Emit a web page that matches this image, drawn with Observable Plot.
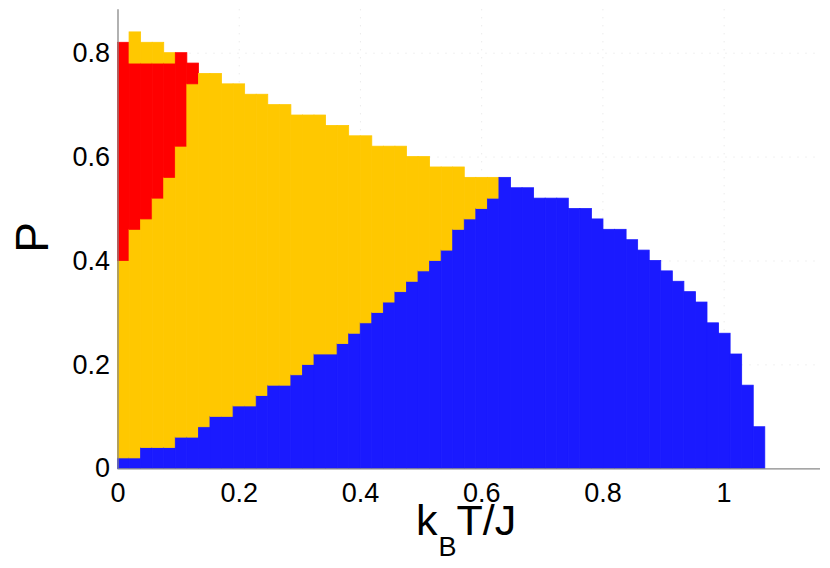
<!DOCTYPE html>
<html><head><meta charset="utf-8">
<script src="https://cdn.jsdelivr.net/npm/d3@7"></script>
<script src="https://cdn.jsdelivr.net/npm/@observablehq/plot@0.6"></script>
<style>body{margin:0;background:#fff;overflow:hidden}</style>
</head><body><div id="chart"></div>
<script>
// column width in k_B T / J (grid of the phase map)
const T_STEP = 0.01907;
// upper P of the blue phase, per temperature column
const blueTop = [0.02,0.02,0.04,0.04,0.04,0.06,0.06,0.08,0.10,0.10,0.12,0.12,0.14,0.16,0.16,0.18,0.20,0.22,0.22,0.24,
  0.26,0.28,0.30,0.32,0.34,0.36,0.38,0.40,0.42,0.46,0.48,0.50,0.52,0.56,0.54,0.54,0.52,0.52,0.52,0.50,
  0.50,0.48,0.46,0.46,0.44,0.42,0.40,0.38,0.36,0.34,0.32,0.28,0.26,0.22,0.16,0.08];
// overall upper P of the ordered region for the first columns (yellow/red on top)
const upperTop = [0.82,0.84,0.82,0.82,0.80,0.80,0.78,0.76,0.76,0.74,0.74,0.72,0.72,0.70,0.70,0.68,0.68,0.68,0.66,0.66,
  0.64,0.64,0.62,0.62,0.62,0.60,0.60,0.58,0.58,0.58,0.56,0.56,0.56];
// red phase extent in the lowest temperature columns
const redLow  = [0.40,0.46,0.48,0.52,0.56,0.62,0.74];
const redHigh = [0.82,0.78,0.78,0.78,0.78,0.80,0.78];

const xTicks = [0,0.2,0.4,0.6,0.8,1];
const yTicks = [0,0.2,0.4,0.6,0.8];
const phaseNames = ["phase R","phase Y","phase B"];
const phaseColors = ["#ff0000","#ffc800","#1a1aff"];

const cells = [];
blueTop.forEach((b, i) => {
  const x1 = i * T_STEP, x2 = (i + 1) * T_STEP;
  cells.push({x1, x2, y1: 0, y2: b, phase: "phase B"});
  if (i < upperTop.length) {
    const top = upperTop[i];
    if (i < redLow.length) {
      cells.push({x1, x2, y1: b, y2: redLow[i], phase: "phase Y"});
      cells.push({x1, x2, y1: redLow[i], y2: redHigh[i], phase: "phase R"});
      if (top > redHigh[i] + 1e-9) cells.push({x1, x2, y1: redHigh[i], y2: top, phase: "phase Y"});
    } else {
      cells.push({x1, x2, y1: b, y2: top, phase: "phase Y"});
    }
  }
});

const fmt = d3.format("~g");
const svg = Plot.plot({
  width: 830, height: 568,
  marginLeft: 117.5, marginRight: 10, marginTop: 9.3, marginBottom: 99.7,
  style: {fontFamily: "'Liberation Sans', Arial, sans-serif", fontSize: "27px", color: "black", background: "white"},
  x: {domain: [0, 1.159]},
  y: {domain: [0, 0.8835]},
  color: {type: "ordinal", domain: phaseNames, range: phaseColors},
  marks: [
    Plot.gridY(yTicks.slice(1), {stroke: "#e2e2e2", strokeOpacity: 1, strokeDasharray: "1,7"}),
    Plot.gridX(xTicks.slice(1), {stroke: "#e2e2e2", strokeOpacity: 1, strokeDasharray: "1,7"}),
    Plot.rect(cells, {x1: "x1", x2: "x2", y1: "y1", y2: "y2", fill: "phase", stroke: "phase", strokeWidth: 0.8}),
    Plot.ruleY([0], {stroke: "#888", strokeWidth: 1.3}),
    Plot.ruleX([0], {stroke: "#888", strokeWidth: 1.3}),
    Plot.axisX(xTicks, {tickSize: 0, tickPadding: 14, tickFormat: fmt, label: null, fontSize: 27}),
    Plot.axisY(yTicks, {tickSize: 0, tickPadding: 8, tickFormat: fmt, label: null, fontSize: 27})
  ]
});

const s = d3.select(svg);
const xl = s.append("text")
  .attr("x", 416).attr("y", 535)
  .attr("text-anchor", "start")
  .attr("font-family", "'Liberation Sans', Arial, sans-serif")
  .attr("font-size", 43).attr("fill", "black");
xl.append("tspan").text("k");
xl.append("tspan").attr("font-size", 27).attr("dx", 1).attr("dy", 21).text("B");
xl.append("tspan").attr("dy", -21).text("T/J");

s.append("text")
  .attr("transform", "translate(48,237.5) rotate(-90)")
  .attr("text-anchor", "middle")
  .attr("font-family", "'Liberation Sans', Arial, sans-serif")
  .attr("font-size", 46).attr("fill", "black")
  .text("P");

document.getElementById("chart").appendChild(svg);
</script>
</body></html>
